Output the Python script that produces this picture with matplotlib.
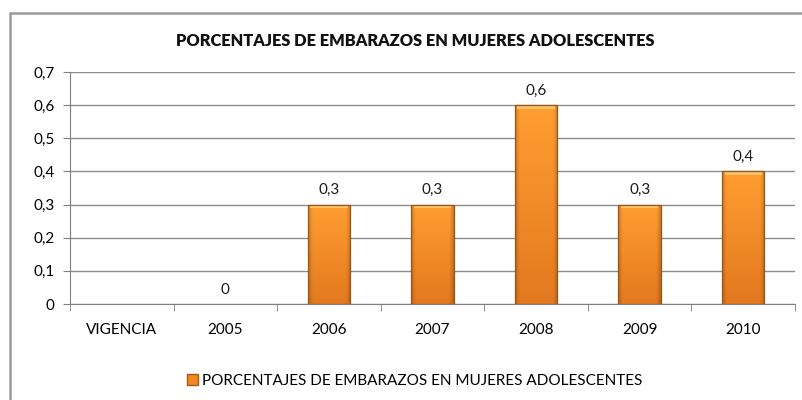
import matplotlib.pyplot as plt
import numpy as np
from matplotlib.patches import Rectangle
from matplotlib.colors import to_rgb

plt.rcParams['font.family'] = ['Lato', 'DejaVu Sans']

categorias = ['VIGENCIA', '2005', '2006', '2007', '2008', '2009', '2010']
valores = [None, 0, 0.3, 0.3, 0.6, 0.3, 0.4]
etiquetas_y = ['0', '0,1', '0,2', '0,3', '0,4', '0,5', '0,6', '0,7']
titulo = 'PORCENTAJES DE EMBARAZOS EN MUJERES ADOLESCENTES'

fig = plt.figure(figsize=(8.03, 4.00), dpi=100)
ax = fig.add_axes([70/803, 1-304/400, 725/803, 232/400])

# marco exterior
fig.patches.append(Rectangle((10/803, -0.05), 1.1, 1.05 - 13/400,
                             transform=fig.transFigure, fill=False,
                             edgecolor='#999999', linewidth=1.8))

x = np.arange(len(categorias))
alturas = [v if v is not None else 0 for v in valores]
barras = ax.bar(x, alturas, width=0.41, color='#f08a22', edgecolor='none',
                linewidth=0, zorder=3)

# degradado tipo relieve de Excel: arriba mas claro, abajo mas oscuro, bordes oscuros
arriba = np.array(to_rgb('#ff9e32'))
abajo = np.array(to_rgb('#e3791f'))
t = np.linspace(0, 1, 80)[:, None, None]
u = np.linspace(-1, 1, 40)[None, :, None]
base = arriba * (1 - t) + abajo * t
sombra = 1 - 0.18 * np.clip((np.abs(u) - 0.8) / 0.2, 0, 1)
relieve = np.clip(base * sombra, 0, 1)
for b in barras:
    if b.get_height() <= 0:
        continue
    x0, w, h = b.get_x(), b.get_width(), b.get_height()
    img = ax.imshow(relieve, aspect='auto', extent=(x0, x0 + w, 0, h),
                    zorder=3.5, interpolation='bilinear')
    img.set_clip_path(b)
    # bisel superior
    ax.add_patch(Rectangle((x0 + w*0.06, h - 0.011), w*0.88, 0.008,
                           facecolor='#ffc468', edgecolor='none', zorder=4))
    ax.add_patch(Rectangle((x0, 0), w, h, fill=False, edgecolor='#9a5416',
                           linewidth=0.9, zorder=4.5))

for xi, v in zip(x, valores):
    if v is None:
        continue
    ax.text(xi, v + 0.022, f'{v:g}'.replace('.', ','), ha='center', va='bottom',
            fontsize=11, color='#1a1a1a', zorder=5)

ax.set_xlim(-0.5, len(categorias) - 0.5)
ax.set_ylim(0, 0.7)
ax.set_yticks(np.arange(0, 0.71, 0.1))
ax.set_yticklabels(etiquetas_y, fontsize=11)
ax.set_xticks(x)
ax.set_xticklabels(categorias, fontsize=11)
ax.set_xticks(np.arange(-0.5, len(categorias)), minor=True)
ax.tick_params(axis='x', which='major', length=0, pad=14)
ax.tick_params(axis='x', which='minor', length=5, color='#808080')
ax.tick_params(axis='y', length=5, color='#808080', pad=6)
ax.grid(axis='y', color='#8c8c8c', linewidth=1, zorder=0)
ax.set_axisbelow(True)
for s in ['top', 'right']:
    ax.spines[s].set_visible(False)
ax.spines['left'].set_color('#808080')
ax.spines['bottom'].set_color('#808080')

fig.text(415/803, 1 - 41/400, titulo, ha='center', va='center',
         fontsize=11.8, fontweight='heavy', color='#111111')

# leyenda
leg = ax.legend([Rectangle((0, 0), 1, 1, facecolor='#f08a1e', edgecolor='#a85818')],
                [titulo], loc='center', bbox_to_anchor=(415/803, 1 - 381/400),
                bbox_transform=fig.transFigure, frameon=False, fontsize=11,
                handlelength=0.7, handleheight=0.7, handletextpad=0.3)

fig.savefig('out.png', dpi=100)
